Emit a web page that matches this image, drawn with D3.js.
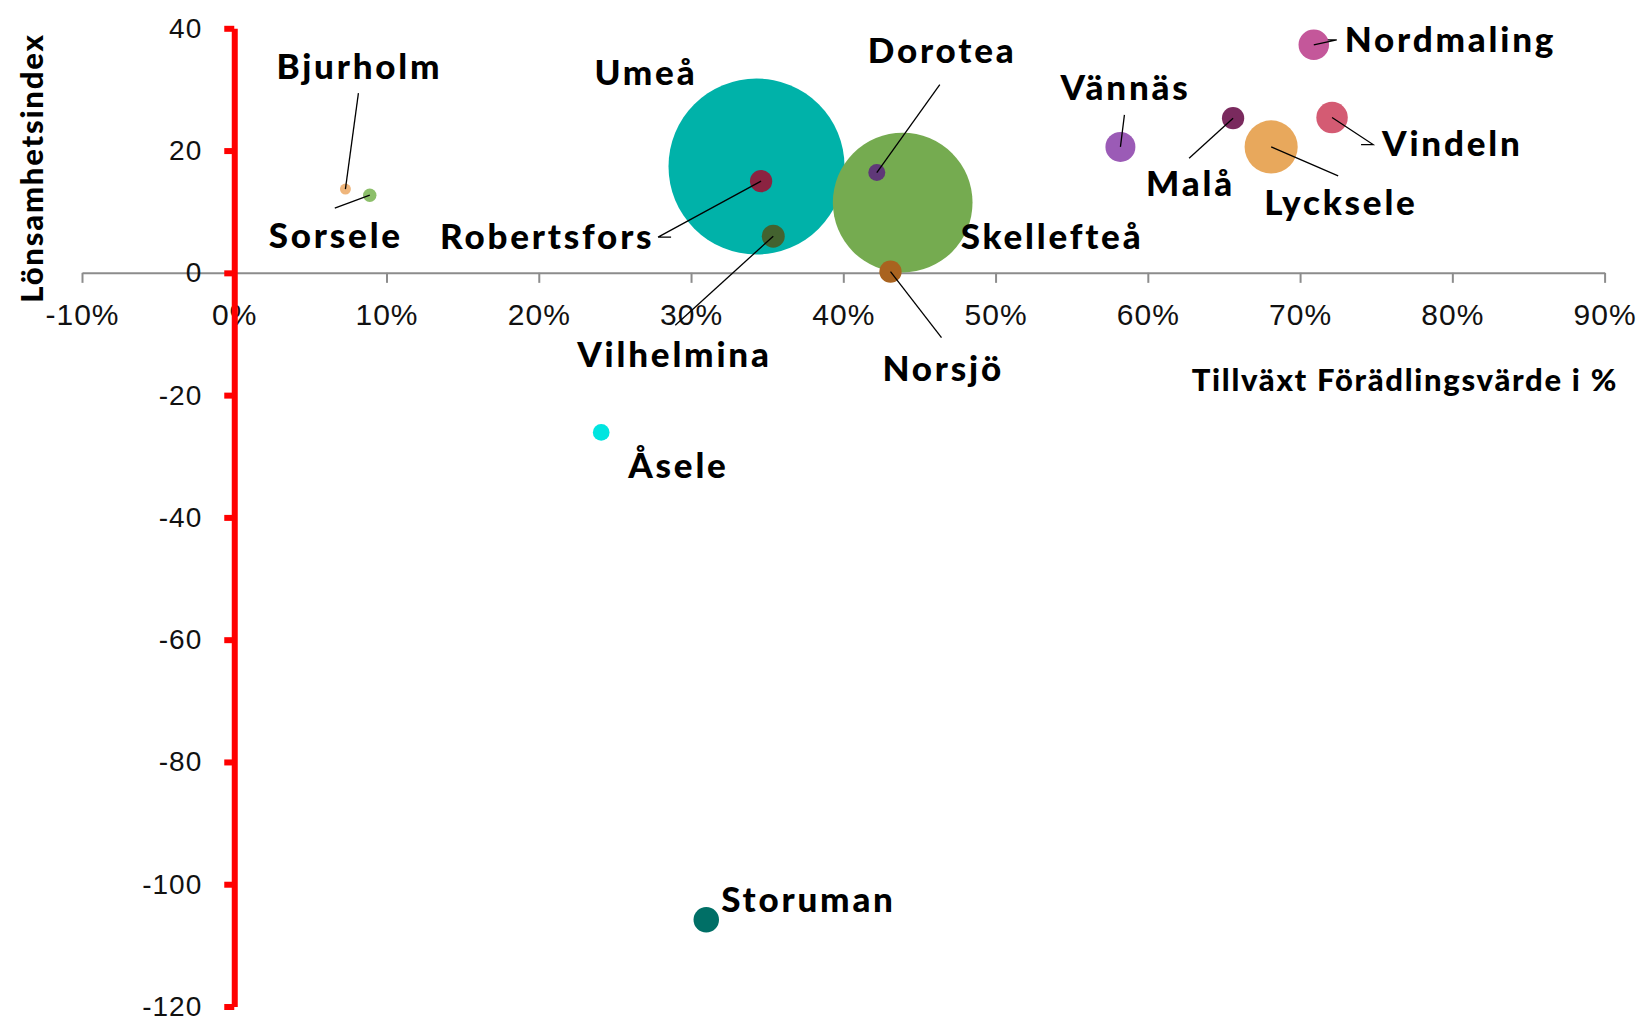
<!DOCTYPE html>
<html>
<head>
<meta charset="utf-8">
<script src="https://cdn.jsdelivr.net/npm/d3@7"></script>
<style>
  body { margin: 0; background: #fff; }
  svg { display: block; }
</style>
</head>
<body>
<script>
  // kommuner i Västerbotten
  const names = ['Umeå', 'Skellefteå', 'Lycksele', 'Vindeln', 'Nordmaling', 'Vännäs', 'Storuman',
    'Vilhelmina', 'Robertsfors', 'Malå', 'Norsjö', 'Dorotea', 'Åsele', 'Sorsele', 'Bjurholm'];
  const growth = [0.343, 0.439, 0.681, 0.721, 0.709, 0.582, 0.310, 0.354, 0.346, 0.656, 0.431, 0.422, 0.241, 0.089, 0.073];
  const profit = [17.4, 11.5, 20.6, 25.4, 37.3, 20.6, -105.8, 6.0, 15.0, 25.3, 0.2, 16.4, -26.1, 12.7, 13.7];
  const size = [100, 63, 9.1, 3.2, 3.0, 2.9, 2.1, 1.7, 1.6, 1.6, 1.6, 0.93, 0.9, 0.58, 0.39];
  const colors = ['#00b2a9', '#75ab50', '#e8a85c', '#d45b73', '#c4579a', '#9b5bb6', '#006f66',
    '#43622f', '#8b2341', '#7a2a5e', '#a9631f', '#5f3878', '#00e5e0', '#8cbf6a', '#efb67c'];

  const xTicks = [-0.1, 0, 0.1, 0.2, 0.3, 0.4, 0.5, 0.6, 0.7, 0.8, 0.9];
  const yTicks = [-120, -100, -80, -60, -40, -20, 0, 20, 40];

  // etikettplacering relativt bubblans mitt: [dx, dy] text, sedan ledarlinjens punkter
  const labelLayout = {
    'Umeå': {at: [-162, -81]},
    'Skellefteå': {at: [58, 46]},
    'Lycksele': {at: [-7, 68], line: [[67, 29]]},
    'Vindeln': {at: [50, 38], line: [[41, 27], [29, 27]]},
    'Nordmaling': {at: [31, 7], line: [[23, -5], [14, -5]]},
    'Vännäs': {at: [-60, -47], line: [[4, -32]]},
    'Storuman': {at: [15, -8]},
    'Vilhelmina': {at: [-196, 131], line: [[-98, 89]]},
    'Robertsfors': {at: [-321, 68], line: [[-103, 56], [-90, 56]]},
    'Malå': {at: [-87, 78], line: [[-44, 40]]},
    'Norsjö': {at: [-8, 109], line: [[51, 66]]},
    'Dorotea': {at: [-9, -110], line: [[63, -88]]},
    'Åsele': {at: [27, 46]},
    'Sorsele': {at: [-101, 53], line: [[-35, 13]]},
    'Bjurholm': {at: [-69, -110], line: [[13, -96]]}
  };

  const width = 1642;
  const height = 1018;

  const data = names.map((name, i) => ({
    name: name,
    growth: growth[i],
    profit: profit[i],
    size: size[i],
    color: colors[i]
  }));

  const x = d3.scaleLinear().domain([-0.1, 0.9]).range([82, 1604.6]);
  const y = d3.scaleLinear().domain([-120, 40]).range([1006.5, 28.3]);
  const r = d3.scaleSqrt().domain([0, 100]).range([0, 88]);

  const svg = d3
    .select('body')
    .append('svg')
    .attr('width', width)
    .attr('height', height)
    .style('font-family', 'Lato, sans-serif');

  // x-axel genom noll
  const xAxis = svg
    .append('g')
    .attr('transform', `translate(0, ${y(0)})`)
    .call(d3.axisBottom(x)
      .tickValues(xTicks)
      .tickSize(10)
      .tickSizeOuter(0)
      .tickPadding(21)
      .tickFormat(d => Math.round(d * 100) + '%'));

  xAxis.select('.domain').attr('stroke', '#8c8c8c').attr('stroke-width', 2);
  xAxis.selectAll('.tick line').attr('stroke', '#8c8c8c').attr('stroke-width', 2);
  xAxis.selectAll('.tick text')
    .attr('fill', '#111')
    .style('font-size', '30px')
    .style('letter-spacing', '1px')
    .style('font-weight', 300);

  // bubblor, största först
  const bubbles = data.slice().sort((a, b) => b.size - a.size);

  svg
    .append('g')
    .selectAll('circle')
    .data(bubbles)
    .enter()
    .append('circle')
    .attr('cx', d => x(d.growth))
    .attr('cy', d => y(d.profit))
    .attr('r', d => r(d.size))
    .attr('fill', d => d.color);

  // ledarlinjer
  const line = d3.line();
  svg
    .append('g')
    .selectAll('path')
    .data(data.filter(d => labelLayout[d.name].line))
    .enter()
    .append('path')
    .attr('d', d => {
      const cx = x(d.growth);
      const cy = y(d.profit);
      const pts = [[cx, cy]].concat(labelLayout[d.name].line.map(p => [cx + p[0], cy + p[1]]));
      return line(pts);
    })
    .attr('fill', 'none')
    .attr('stroke', '#000')
    .attr('stroke-width', 1.3);

  // y-axel (röd)
  const yAxis = svg
    .append('g')
    .attr('transform', `translate(${x(0)}, 0)`)
    .call(d3.axisLeft(y)
      .tickValues(yTicks)
      .tickSize(10)
      .tickSizeOuter(0)
      .tickPadding(22)
      .tickFormat(d => String(d)));

  yAxis.select('.domain').attr('stroke', '#ff0000').attr('stroke-width', 6);
  yAxis.selectAll('.tick line').attr('stroke', '#ff0000').attr('stroke-width', 6);
  yAxis.selectAll('.tick text')
    .attr('fill', '#111')
    .style('font-size', '28px')
    .style('letter-spacing', '1px')
    .style('font-weight', 300);

  // etiketter
  svg
    .append('g')
    .selectAll('text')
    .data(data)
    .enter()
    .append('text')
    .attr('x', d => x(d.growth) + labelLayout[d.name].at[0])
    .attr('y', d => y(d.profit) + labelLayout[d.name].at[1])
    .attr('fill', '#000')
    .style('font-size', '35px')
    .style('letter-spacing', '2.8px')
    .style('font-weight', 900)
    .text(d => d.name);

  // axeltitlar
  svg
    .append('text')
    .attr('transform', 'translate(43, 168) rotate(-90)')
    .attr('text-anchor', 'middle')
    .style('font-size', '31px')
    .style('letter-spacing', '1.8px')
    .style('font-weight', 900)
    .text('Lönsamhetsindex');

  svg
    .append('text')
    .attr('x', 1618)
    .attr('y', 391)
    .attr('text-anchor', 'end')
    .style('font-size', '31px')
    .style('letter-spacing', '1.7px')
    .style('font-weight', 900)
    .text('Tillväxt Förädlingsvärde i %');
</script>
</body>
</html>
